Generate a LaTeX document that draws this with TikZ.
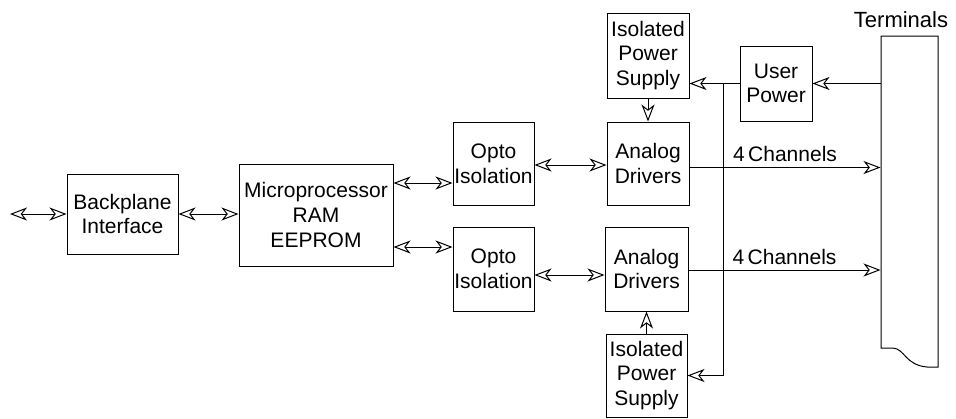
\documentclass[tikz,border=0pt]{standalone}
\usepackage{fontspec}
\setmainfont{Liberation Sans}
\usetikzlibrary{positioning}
\usetikzlibrary{calc}
\usetikzlibrary{arrows.meta}
\tikzset{
blk/.style={
  rectangle,
  inner sep=0pt,
  align=center,
  draw=black,
  fill=white,
  font=\fontsize{10.5}{12.3}\selectfont
  },
lbl/.style={
  inner sep=0pt,
  font=\fontsize{10.5}{12.3}\selectfont
  }
}
\begin{document}
\begin{tikzpicture}[>={Stealth[open,length=8.5pt,width=6.5pt,inset=2.5pt]},x=0.5pt,y=-0.5pt,line width=0.5pt]
    \useasboundingbox (0,0) rectangle (956,418);
    \node[blk,minimum width=55.5pt,minimum height=40pt] (bp) at (122.5,214) {Backplane\\Interface};
    \node[blk,minimum width=77pt,minimum height=51pt] (mp) at (316,215) {Microprocessor\\RAM\\EEPROM};
    \node[blk,minimum width=40.5pt,minimum height=41.5pt] (opto1) at (493.5,163.5) {Opto\\Isolation};
    \node[blk,minimum width=40.5pt,minimum height=42pt] (opto2) at (493.5,269) {Opto\\Isolation};
    \node[blk,minimum width=41pt,minimum height=41.5pt] (ad1) at (648,163.5) {Analog\\Drivers};
    \node[blk,minimum width=41.5pt,minimum height=42pt] (ad2) at (646.5,269) {Analog\\Drivers};
    \node[blk,minimum width=41pt,minimum height=42.5pt] (ips1) at (648,55.5) {Isolated\\Power\\Supply};
    \node[blk,minimum width=40.5pt,minimum height=41.5pt] (ips2) at (646.5,375.5) {Isolated\\Power\\Supply};
    \node[blk,minimum width=36pt,minimum height=37.5pt] (up) at (776,83.5) {User\\Power};
    \node[inner sep=0pt,minimum width=28.5pt,minimum height=165.5pt] (term) at (909.5,201.5) {};
    \node[lbl,font=\fontsize{11}{13}\selectfont] (termlbl) at (901,20) {Terminals};
    \coordinate (ext) at (10,214);
    \coordinate (jn) at (723,84);
    % terminal strip with torn bottom
    \draw (881,348) -- (881,36) -- (938,36) -- (938,367) -- (927,367)
      .. controls (905,365) and (905,349) .. (893,348) -- cycle;
    % data path
    \draw[<->] (ext) -- (bp.west);
    \draw[<->] (bp.east) -- (bp.east -| mp.west);
    \draw[<->] ([yshift=16pt]mp.east) -- ([yshift=16pt]mp.east -| opto1.west);
    \draw[<->] ([yshift=-16pt]mp.east) -- ([yshift=-16pt]mp.east -| opto2.west);
    \draw[<->] ([yshift=-0.75pt]opto1.east) -- ([yshift=-0.75pt]ad1.west);
    \draw[<->] ([yshift=-3pt]opto2.east) -- ([yshift=-3pt]opto2.east -| ad2.west);
    \draw[->] ([yshift=-2pt]ad1.east) -- ([yshift=-2pt]ad1.east -| term.west)
      node[lbl,midway,above=2.5pt] {4\,Channels};
    \draw[->] ([yshift=-0.5pt]ad2.east) -- ([yshift=-0.5pt]ad2.east -| term.west)
      node[lbl,midway,above=2.5pt] {4\,Channels};
    % power
    \draw[->] (term.west |- up.east) -- (up.east);
    \draw[->] (up.west) -- (up.west -| ips1.east);
    \draw[->] (jn) |- (ips2.east);
    \draw[->] (ips1.south) -- (ad1.north);
    \draw[->] (ips2.north) -- (ad2.south);
\end{tikzpicture}
\end{document}
